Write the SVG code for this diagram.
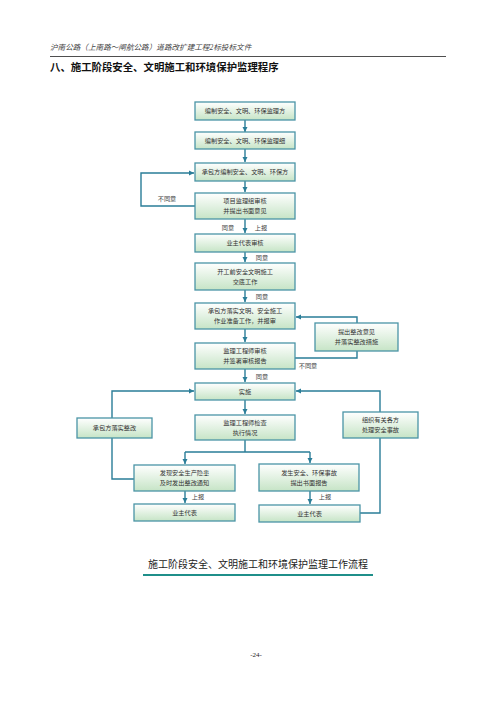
<svg xmlns="http://www.w3.org/2000/svg" width="496" height="702" viewBox="0 0 496 702">
<defs>
<linearGradient id="g" x1="0" y1="0" x2="0" y2="1">
<stop offset="0" stop-color="#ffffff"/>
<stop offset="1" stop-color="#c6e4c6"/>
</linearGradient>
<marker id="a" markerWidth="6" markerHeight="6" refX="5" refY="3" orient="auto" markerUnits="userSpaceOnUse">
<path d="M0,0.5 L5,3 L0,5.5 z" fill="#2a7d98"/>
</marker>
<style>
.b{fill:url(#g);stroke:#4a94a6;stroke-width:1.3}
.t{font-family:"Liberation Serif","Noto Sans CJK SC",serif;font-size:6.2px;fill:#333;text-anchor:middle}
.l{font-family:"Liberation Serif","Noto Sans CJK SC",serif;font-size:6.2px;fill:#444;text-anchor:middle}
.c{fill:none;stroke:#2a7d98;stroke-width:1.4}
</style>
</defs>
<rect width="496" height="702" fill="#fff"/>
<text x="50" y="50" font-family="Liberation Serif,Noto Sans CJK SC,serif" font-size="7.6" font-style="italic" fill="#444">沪南公路（上南路～闸航公路）道路改扩建工程2标投标文件</text>
<line x1="50" y1="56.5" x2="446" y2="56.5" stroke="#222" stroke-width="0.8"/>
<text x="50" y="71" font-family="Liberation Serif,Noto Sans CJK SC,sans-serif" font-size="10.4" font-weight="bold" fill="#111">八、施工阶段安全、文明施工和环境保护监理程序</text>

<g id="connectors">
<path class="c" d="M245,120 V132" marker-end="url(#a)"/>
<path class="c" d="M245,149 V162" marker-end="url(#a)"/>
<path class="c" d="M245,181 V192" marker-end="url(#a)"/>
<path class="c" d="M195,206 H141 V173 H194" marker-end="url(#a)"/>
<path class="c" d="M245,219 V233" marker-end="url(#a)"/>
<path class="c" d="M245,252 V262" marker-end="url(#a)"/>
<path class="c" d="M245,290 V302" marker-end="url(#a)"/>
<path class="c" d="M245,329 V342" marker-end="url(#a)"/>
<path class="c" d="M295,358 H357 V351"/>
<path class="c" d="M357,323 V317 H296" marker-end="url(#a)"/>
<path class="c" d="M245,369 V382" marker-end="url(#a)"/>
<path class="c" d="M245,400 V414" marker-end="url(#a)"/>
<path class="c" d="M245,440 V452 M185,452 H310"/>
<path class="c" d="M185,452 V464" marker-end="url(#a)"/>
<path class="c" d="M310,452 V463" marker-end="url(#a)"/>
<path class="c" d="M380,412 V391 H296" marker-end="url(#a)"/>
<path class="c" d="M112,418 V391 H194" marker-end="url(#a)"/>
<path class="c" d="M134,479 H112 V438"/>
<path class="c" d="M360,513 H380 V438"/>
<path class="c" d="M185,491 V503" marker-end="url(#a)"/>
<path class="c" d="M310,491 V504" marker-end="url(#a)"/>
<text class="l" x="167" y="201">不同意</text>
<text class="l" x="228" y="230">同意</text>
<text class="l" x="261" y="230">上报</text>
<text class="l" x="262" y="260">同意</text>
<text class="l" x="262" y="299">同意</text>
<text class="l" x="308" y="368">不同意</text>
<text class="l" x="262" y="379">同意</text>
<text class="l" x="198" y="499">上报</text>
<text class="l" x="325" y="499">上报</text>
</g>

<g id="n1"><rect class="b" x="195" y="102" width="100" height="18"/><text class="t" x="245" y="113.3">编制安全、文明、环保监理方</text></g>
<g id="n2"><rect class="b" x="195" y="132" width="100" height="17"/><text class="t" x="245" y="142.8">编制安全、文明、环保监理细</text></g>
<g id="n3"><rect class="b" x="195" y="163" width="100" height="18"/><text class="t" x="245" y="174.3">承包方编制安全、文明、环保方</text></g>
<g id="n4"><rect class="b" x="195" y="193" width="100" height="26"/><text class="t" x="245" y="203">项目监理组审核</text><text class="t" x="245" y="213">并提出书面意见</text></g>
<g id="n5"><rect class="b" x="195" y="234" width="100" height="18"/><text class="t" x="245" y="245.3">业主代表审核</text></g>
<g id="n6"><rect class="b" x="195" y="263" width="100" height="27"/><text class="t" x="245" y="273.5">开工前安全文明施工</text><text class="t" x="245" y="283.5">交底工作</text></g>
<g id="n7"><rect class="b" x="195" y="303" width="100" height="26"/><text class="t" x="245" y="313">承包方落实文明、安全施工</text><text class="t" x="245" y="323">作业准备工作，并报审</text></g>
<g id="n8"><rect class="b" x="315" y="323" width="83" height="28"/><text class="t" x="356.5" y="334">提出整改意见</text><text class="t" x="356.5" y="344">并落实整改措施</text></g>
<g id="n9"><rect class="b" x="195" y="343" width="100" height="26"/><text class="t" x="245" y="353">监理工程师审核</text><text class="t" x="245" y="363">并签署审核报告</text></g>
<g id="n10"><rect class="b" x="195" y="383" width="100" height="17"/><text class="t" x="245" y="393.8">实施</text></g>
<g id="n11"><rect class="b" x="77" y="418" width="75" height="20"/><text class="t" x="114.5" y="430.3">承包方落实整改</text></g>
<g id="n12"><rect class="b" x="195" y="415" width="100" height="25"/><text class="t" x="245" y="424.5">监理工程师检查</text><text class="t" x="245" y="434.5">执行情况</text></g>
<g id="n13"><rect class="b" x="343" y="412" width="75" height="26"/><text class="t" x="380.5" y="422">组织有关各方</text><text class="t" x="380.5" y="432">处理安全事故</text></g>
<g id="n14"><rect class="b" x="134" y="465" width="101" height="26"/><text class="t" x="184.5" y="475">发现安全生产隐患</text><text class="t" x="184.5" y="485">及时发出整改通知</text></g>
<g id="n15"><rect class="b" x="259" y="464" width="100" height="27"/><text class="t" x="309" y="474.5">发生安全、环保事故</text><text class="t" x="309" y="484.5">提出书面报告</text></g>
<g id="n16"><rect class="b" x="134" y="504" width="101" height="17"/><text class="t" x="184.5" y="514.8">业主代表</text></g>
<g id="n17"><rect class="b" x="259" y="505" width="101" height="17"/><text class="t" x="309.5" y="515.8">业主代表</text></g>

<text x="258" y="568" font-family="Liberation Serif,Noto Sans CJK SC,serif" font-size="10" fill="#222" text-anchor="middle">施工阶段安全、文明施工和环境保护监理工作流程</text>
<line x1="143" y1="575" x2="373" y2="575" stroke="#1f8f8a" stroke-width="2.2"/>
<text x="256" y="657" font-family="Liberation Serif,serif" font-size="7" fill="#222" text-anchor="middle">-24-</text>
</svg>
